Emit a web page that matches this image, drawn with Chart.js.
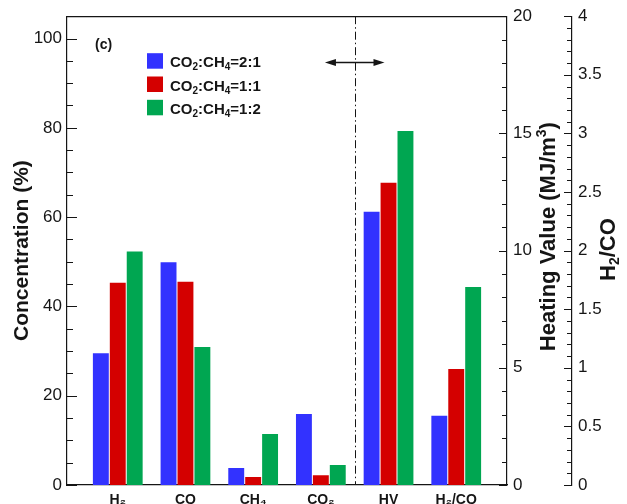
<!DOCTYPE html>
<html><head><meta charset="utf-8">
<script src="https://cdn.jsdelivr.net/npm/chart.js@4/dist/chart.umd.min.js"></script>
<style>html,body{margin:0;padding:0;background:#fff;overflow:hidden}canvas{display:block}</style>
</head><body>
<canvas id="c" width="627" height="504"></canvas>
<script>
// ---- data ----
const categories = ['H₂', 'CO', 'CH₄', 'CO₂', 'HV', 'H₂/CO'];
const seriesLabels = ['CO₂:CH₄=2:1', 'CO₂:CH₄=1:1', 'CO₂:CH₄=1:2'];
const seriesColors = ['#3232FF', '#D40000', '#00A651'];
// gas concentration (%) for H2, CO, CH4, CO2
const concBlue  = [29.5, 49.9, 3.8, 15.9];
const concRed   = [45.3, 45.5, 1.8, 2.2];
const concGreen = [52.3, 30.9, 11.4, 4.5];
// heating value (MJ/m3) per series
const hvValues = [11.66, 12.89, 15.1];
// H2/CO ratio per series
const ratioValues = [0.59, 0.99, 1.69];
// tick labels
const concTicks = [0, 20, 40, 60, 80, 100];
const hvTicks = [0, 5, 10, 15, 20];
const ratioTicks = [0, 0.5, 1, 1.5, 2, 2.5, 3, 3.5, 4];

const FONT = '"Liberation Sans", Arial, Helvetica, sans-serif';
const INK = '#151515';
const hvIndex = categories.indexOf('HV');
const ratioIndex = categories.indexOf('H₂/CO');

const datasets = [];
[concBlue, concRed, concGreen].forEach((vals, s) => datasets.push({
  label: seriesLabels[s], data: vals.map((v, i) => ({x: i, y: v})),
  backgroundColor: seriesColors[s], yAxisID: 'y'
}));
hvValues.forEach((v, s) => datasets.push({
  label: seriesLabels[s], data: [{x: hvIndex, y: v}],
  backgroundColor: seriesColors[s], yAxisID: 'yHV'
}));
ratioValues.forEach((v, s) => datasets.push({
  label: seriesLabels[s], data: [{x: ratioIndex, y: v}],
  backgroundColor: seriesColors[s], yAxisID: 'yR'
}));

// ---- rich text (sub/superscripts) ----
const SUB = {'₀':'0','₁':'1','₂':'2','₃':'3','₄':'4'};
const SUP = {'³':'3','²':'2'};
function drawRich(ctx, text, x, y, size, align) {
  const segs = [];
  for (const ch of text) {
    let type = 0, c = ch;
    if (SUB[ch]) { type = 1; c = SUB[ch]; } else if (SUP[ch]) { type = 2; c = SUP[ch]; }
    const last = segs[segs.length - 1];
    if (last && last.type === type) last.t += c; else segs.push({type, t: c});
  }
  const small = Math.round(size * 0.64);
  const f = s => `bold ${s}px ${FONT}`;
  let total = 0;
  segs.forEach(sg => { ctx.font = f(sg.type ? small : size); sg.w = ctx.measureText(sg.t).width; total += sg.w; });
  let cx = align === 'center' ? x - total / 2 : x;
  ctx.textAlign = 'left'; ctx.textBaseline = 'alphabetic';
  segs.forEach(sg => {
    ctx.font = f(sg.type ? small : size);
    const dy = sg.type === 1 ? size * 0.2 : sg.type === 2 ? -size * 0.42 : 0;
    ctx.fillText(sg.t, cx, y + dy);
    cx += sg.w;
  });
  return total;
}

// ---- decorations plugin ----
const decor = {
  id: 'decor',
  afterDraw(chart) {
    const {ctx, chartArea: ca, scales} = chart;
    ctx.save();
    ctx.strokeStyle = INK; ctx.fillStyle = INK; ctx.lineWidth = 1.2;
    // top frame
    ctx.beginPath(); ctx.moveTo(ca.left, ca.top + 0.5); ctx.lineTo(ca.right, ca.top + 0.5); ctx.stroke();
    // inward / left-pointing ticks
    const defs = [
      {s: scales.y, x0: ca.left, dir: 1, maj: 10, min: 6},
      {s: scales.yHV, x0: ca.right, dir: -1, maj: 8, min: 5},
      {s: scales.yR, x0: scales.yR.left, dir: -1, maj: 8, min: 5}
    ];
    ctx.lineWidth = 1;
    defs.forEach(d => {
      d.s.ticks.forEach(t => {
        const py = Math.round(d.s.getPixelForValue(t.value)) + 0.5;
        const len = t.label !== '' ? d.maj : d.min;
        ctx.beginPath(); ctx.moveTo(d.x0, py); ctx.lineTo(d.x0 + d.dir * len, py); ctx.stroke();
      });
    });
    // dash-dot divider
    const xs = scales.x;
    const dx = Math.round(xs.getPixelForValue(hvIndex - 0.5)) + 0.5;
    ctx.setLineDash([8, 3, 1.5, 3]);
    ctx.beginPath(); ctx.moveTo(dx, ca.top); ctx.lineTo(dx, ca.bottom); ctx.stroke();
    ctx.setLineDash([]);
    // double arrow
    const ay = Math.round(scales.y.getPixelForValue(94.7)) + 0.5;
    const ax1 = xs.getPixelForValue(hvIndex - 0.94), ax2 = xs.getPixelForValue(hvIndex - 0.06);
    ctx.lineWidth = 1.5;
    ctx.beginPath(); ctx.moveTo(ax1 + 6, ay); ctx.lineTo(ax2 - 6, ay); ctx.stroke();
    [[ax1, 1], [ax2, -1]].forEach(([tx, dir]) => {
      ctx.beginPath(); ctx.moveTo(tx, ay); ctx.lineTo(tx + dir * 11, ay - 3.5); ctx.lineTo(tx + dir * 11, ay + 3.5); ctx.closePath(); ctx.fill();
    });
    // panel label
    ctx.font = `bold 14px ${FONT}`; ctx.textAlign = 'left'; ctx.textBaseline = 'alphabetic';
    ctx.fillText('(c)', ca.left + 28, ca.top + 33);
    // legend
    seriesLabels.forEach((lab, i) => {
      const bx = ca.left + 80, by = ca.top + 37 + i * 23.3;
      ctx.fillStyle = seriesColors[i];
      ctx.fillRect(bx, by, 16, 15.5);
      ctx.fillStyle = INK;
      drawRich(ctx, lab, bx + 23, by + 14, 15, 'left');
    });
    // right axis titles (reading bottom-to-top)
    const midY = (ca.top + ca.bottom) / 2;
    ctx.save(); ctx.translate(547, midY - 14); ctx.rotate(-Math.PI / 2);
    drawRich(ctx, 'Heating Value (MJ/m³)', 0, 8, 22, 'center'); ctx.restore();
    ctx.save(); ctx.translate(607, midY - 1); ctx.rotate(-Math.PI / 2);
    drawRich(ctx, 'H₂/CO', 0, 8, 22, 'center'); ctx.restore();
    ctx.restore();
  }
};

const tickFont = {family: FONT, size: 17};
new Chart(document.getElementById('c'), {
  type: 'bar',
  data: {datasets},
  options: {
    responsive: false, animation: false,
    layout: {padding: {top: 15, left: 0, right: 0, bottom: 0}},
    datasets: {bar: {skipNull: true, categoryPercentage: 0.75, barPercentage: 0.94, borderWidth: 0}},
    plugins: {legend: {display: false}, tooltip: {enabled: false}},
    scales: {
      x: {
        type: 'linear', position: 'bottom', min: -0.75, max: 5.75, offset: false,
        afterBuildTicks: s => { s.ticks = categories.map((c, i) => ({value: i})); },
        afterFit: s => { s.height = 19; },
        grid: {display: false, drawTicks: false, offset: false},
        border: {display: true, color: INK, width: 1.2},
        ticks: {autoSkip: false, maxRotation: 0, padding: 7, color: INK,
          font: {family: FONT, size: 14, weight: 'bold'},
          callback: v => categories[v] ?? ''}
      },
      y: {
        position: 'left', min: 0, max: 105,
        afterFit: s => { s.width = 67; },
        grid: {display: false, drawTicks: false},
        border: {display: true, color: INK, width: 1.2},
        ticks: {stepSize: 5, autoSkip: false, maxTicksLimit: 100, padding: 5, color: INK, font: tickFont,
          callback: v => concTicks.includes(v) ? String(v) : ''},
        title: {display: true, text: 'Concentration (%)', color: INK, padding: {top: 10, bottom: 0},
          font: {family: FONT, size: 21, weight: 'bold'}}
      },
      yHV: {
        position: 'right', min: 0, max: 20,
        afterFit: s => { s.width = 65; },
        grid: {display: false, drawTicks: false},
        border: {display: true, color: INK, width: 1.2},
        ticks: {stepSize: 1, autoSkip: false, maxTicksLimit: 100, padding: 6, color: INK, font: tickFont,
          callback: v => hvTicks.includes(v) ? String(v) : ''}
      },
      yR: {
        position: 'right', min: 0, max: 4,
        afterFit: s => { s.width = 55; },
        grid: {display: false, drawTicks: false},
        border: {display: true, color: INK, width: 1.2},
        ticks: {stepSize: 0.1, autoSkip: false, maxTicksLimit: 100, padding: 6, color: INK, font: tickFont,
          callback: v => ratioTicks.some(t => Math.abs(t - v) < 1e-6) ? String(Math.round(v * 10) / 10) : ''}
      }
    }
  },
  plugins: [decor]
});
</script>
</body></html>
